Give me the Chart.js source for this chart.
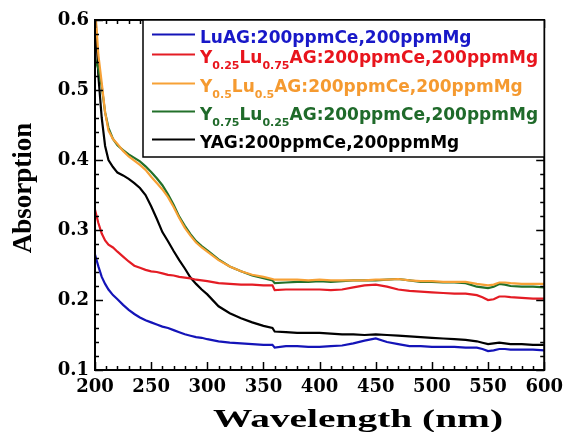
<!DOCTYPE html>
<html lang="en">
<head>
<meta charset="UTF-8">
<title>Absorption spectra</title>
<script src="https://cdn.jsdelivr.net/npm/chart.js"></script>
<style>
  body { margin: 0; background: #fff; }
  #wrap { width: 570px; height: 432px; }
</style>
</head>
<body>
<div id="wrap"><canvas id="chart" width="570" height="432"></canvas></div>
<script>
// wavelengths (nm) shared by all curves
const wavelengths = [
  200, 203, 206, 209, 212, 216, 220, 225, 230, 235,
  240, 245, 250, 255, 260, 265, 270, 275, 280, 285,
  290, 295, 300, 310, 320, 330, 340, 350, 358, 360,
  370, 380, 390, 400, 410, 420, 430, 440, 450, 460,
  470, 480, 490, 500, 510, 520, 530, 540, 545, 550,
  555, 560, 565, 570, 580, 590, 600
];

const luag = [
  0.265, 0.248, 0.233, 0.223, 0.215, 0.207, 0.201, 0.193, 0.186, 0.180,
  0.175, 0.171, 0.168, 0.165, 0.162, 0.160, 0.157, 0.154, 0.151, 0.149,
  0.147, 0.146, 0.144, 0.141, 0.139, 0.138, 0.137, 0.136, 0.136, 0.132,
  0.134, 0.134, 0.133, 0.133, 0.134, 0.135, 0.138, 0.142, 0.145, 0.140,
  0.137, 0.134, 0.134, 0.133, 0.133, 0.133, 0.132, 0.132, 0.130, 0.127,
  0.128, 0.130, 0.130, 0.129, 0.129, 0.129, 0.128
];

const y25lu75 = [
  0.329, 0.310, 0.295, 0.285, 0.279, 0.275, 0.269, 0.262, 0.255, 0.249,
  0.246, 0.243, 0.241, 0.240, 0.238, 0.236, 0.235, 0.233, 0.232, 0.231,
  0.229, 0.228, 0.227, 0.224, 0.223, 0.222, 0.222, 0.221, 0.221, 0.214,
  0.215, 0.215, 0.215, 0.215, 0.214, 0.215, 0.218, 0.221, 0.222, 0.219,
  0.215, 0.213, 0.212, 0.211, 0.210, 0.209, 0.209, 0.207, 0.204, 0.200,
  0.201, 0.205, 0.205, 0.204, 0.203, 0.202, 0.202
];

const y50lu50 = [
  0.620, 0.550, 0.510, 0.468, 0.442, 0.430, 0.423, 0.413, 0.405, 0.399,
  0.393, 0.386, 0.376, 0.367, 0.358, 0.347, 0.333, 0.317, 0.303, 0.292,
  0.282, 0.275, 0.269, 0.257, 0.248, 0.241, 0.236, 0.233, 0.230, 0.229,
  0.229, 0.229, 0.228, 0.229, 0.228, 0.228, 0.228, 0.228, 0.229, 0.229,
  0.230, 0.228, 0.227, 0.227, 0.226, 0.226, 0.226, 0.223, 0.222, 0.221,
  0.222, 0.225, 0.225, 0.224, 0.223, 0.223, 0.223
];

const y75lu25 = [
  0.545, 0.530, 0.505, 0.468, 0.446, 0.430, 0.421, 0.414, 0.408, 0.403,
  0.398, 0.391, 0.383, 0.374, 0.364, 0.351, 0.336, 0.319, 0.306, 0.294,
  0.284, 0.277, 0.271, 0.258, 0.248, 0.241, 0.235, 0.231, 0.228, 0.224,
  0.225, 0.226, 0.226, 0.227, 0.226, 0.227, 0.228, 0.228, 0.228, 0.229,
  0.230, 0.228, 0.226, 0.226, 0.225, 0.225, 0.224, 0.219, 0.218, 0.217,
  0.219, 0.223, 0.222, 0.220, 0.219, 0.219, 0.218
];

const yag = [
  0.620, 0.520, 0.460, 0.420, 0.400, 0.390, 0.382, 0.378, 0.373, 0.367,
  0.360, 0.350, 0.334, 0.316, 0.297, 0.284, 0.270, 0.257, 0.245, 0.232,
  0.223, 0.215, 0.208, 0.191, 0.181, 0.174, 0.168, 0.163, 0.160, 0.155,
  0.154, 0.153, 0.153, 0.153, 0.152, 0.151, 0.151, 0.150, 0.151, 0.150,
  0.149, 0.148, 0.147, 0.146, 0.145, 0.144, 0.143, 0.141, 0.139, 0.137,
  0.138, 0.139, 0.138, 0.137, 0.137, 0.136, 0.136
];

const seriesValues = [luag, y25lu75, y50lu50, y75lu25, yag];
const seriesLabels = [
  'LuAG:200ppmCe,200ppmMg',
  'Y0.25Lu0.75AG:200ppmCe,200ppmMg',
  'Y0.5Lu0.5AG:200ppmCe,200ppmMg',
  'Y0.75Lu0.25AG:200ppmCe,200ppmMg',
  'YAG:200ppmCe,200ppmMg'
];
// same labels split into [text, isSubscript] pieces for the legend
const legendParts = [
  [['LuAG:200ppmCe,200ppmMg', false]],
  [['Y', false], ['0.25', true], ['Lu', false], ['0.75', true], ['AG:200ppmCe,200ppmMg', false]],
  [['Y', false], ['0.5', true], ['Lu', false], ['0.5', true], ['AG:200ppmCe,200ppmMg', false]],
  [['Y', false], ['0.75', true], ['Lu', false], ['0.25', true], ['AG:200ppmCe,200ppmMg', false]],
  [['YAG:200ppmCe,200ppmMg', false]]
];
const seriesColors = ['#1414b8', '#e41c24', '#f7a136', '#22702a', '#000000'];
const textColors = ['#1818c8', '#e8141c', '#f59a30', '#1f6a2a', '#000000'];

const xMin = 200, xMax = 600, yMin = 0.1, yMax = 0.6;

function toPoints(values) {
  return wavelengths.map((w, i) => ({ x: w, y: values[i] }));
}

// box frame, inward ticks on all four sides, axis titles, legend
const decorPlugin = {
  id: 'decor',
  afterDraw(chart) {
    const { ctx, chartArea: a } = chart;
    const x = chart.scales.x, y = chart.scales.y;
    ctx.save();

    ctx.strokeStyle = '#000';
    ctx.lineWidth = 1.5;
    ctx.beginPath();
    for (let w = xMin; w <= xMax; w += 10) {
      const px = Math.round(x.getPixelForValue(w)) + 0.5;
      const len = w % 50 === 0 ? 8 : 4;
      ctx.moveTo(px, a.bottom); ctx.lineTo(px, a.bottom - len);
      ctx.moveTo(px, a.top); ctx.lineTo(px, a.top + len);
    }
    for (let i = 0; i <= 25; i++) {
      const py = Math.round(y.getPixelForValue(yMin + i * 0.02)) + 0.5;
      const len = i % 5 === 0 ? 8 : 4;
      ctx.moveTo(a.left, py); ctx.lineTo(a.left + len, py);
      ctx.moveTo(a.right, py); ctx.lineTo(a.right - len, py);
    }
    ctx.stroke();

    ctx.lineWidth = 2;
    ctx.strokeRect(a.left, a.top, a.right - a.left, a.bottom - a.top);

    // axis titles
    ctx.fillStyle = '#000';
    ctx.textAlign = 'center';
    ctx.textBaseline = 'alphabetic';
    ctx.font = 'bold 26px "Liberation Serif", "Times New Roman", serif';
    const xt = 'Wavelength (nm)';
    const sx = 290 / ctx.measureText(xt).width;
    ctx.save();
    ctx.translate(358, 427);
    ctx.scale(sx, 1);
    ctx.fillText(xt, 0, 0);
    ctx.restore();

    ctx.save();
    ctx.translate(31, 188);
    ctx.rotate(-Math.PI / 2);
    ctx.font = 'bold 27px "Liberation Serif", "Times New Roman", serif';
    ctx.fillText('Absorption', 0, 0);
    ctx.restore();

    // legend
    const lx = 143, ly = a.top, lw = a.right - 143, lh = 137;
    ctx.fillStyle = '#fff';
    ctx.fillRect(lx, ly, lw, lh);
    ctx.lineWidth = 1.5;
    ctx.strokeStyle = '#000';
    ctx.strokeRect(lx, ly, lw, lh);

    const baselines = [43, 63, 92, 120, 148];
    ctx.textAlign = 'left';
    legendParts.forEach((parts, i) => {
      const base = baselines[i];
      ctx.strokeStyle = seriesColors[i];
      ctx.lineWidth = 2.2;
      ctx.beginPath();
      ctx.moveTo(152, base - 8.5);
      ctx.lineTo(195, base - 8.5);
      ctx.stroke();
      ctx.fillStyle = textColors[i];
      let cx = 200;
      parts.forEach(([txt, sub]) => {
        ctx.font = sub ? 'bold 11px "DejaVu Sans", sans-serif' : 'bold 17px "DejaVu Sans", sans-serif';
        ctx.fillText(txt, cx, sub ? base + 6 : base);
        cx += ctx.measureText(txt).width;
      });
    });
    ctx.restore();
  }
};

const tickFont = { family: '"DejaVu Serif", serif', size: 18, weight: 'bold' };

new Chart(document.getElementById('chart'), {
  type: 'line',
  data: {
    datasets: seriesValues.map((vals, i) => ({
      label: seriesLabels[i],
      data: toPoints(vals),
      borderColor: seriesColors[i],
      backgroundColor: seriesColors[i],
      borderWidth: 2.2,
      pointRadius: 0,
      tension: 0,
      fill: false
    }))
  },
  options: {
    responsive: false,
    animation: false,
    layout: { padding: { top: 20, right: 22, left: 0, bottom: 0 } },
    plugins: {
      legend: { display: false },
      tooltip: { enabled: false }
    },
    scales: {
      x: {
        type: 'linear',
        min: xMin,
        max: xMax,
        ticks: { stepSize: 50, font: tickFont, color: '#000', padding: 7, maxRotation: 0 },
        grid: { display: false, drawTicks: false },
        border: { display: false },
        afterFit: s => { s.height = 62; }
      },
      y: {
        min: yMin,
        max: yMax,
        ticks: { stepSize: 0.1, font: tickFont, color: '#000', padding: 6, callback: v => v.toFixed(1) },
        grid: { display: false, drawTicks: false },
        border: { display: false },
        afterFit: s => { s.width = 95; }
      }
    }
  },
  plugins: [decorPlugin]
});
</script>
</body>
</html>
